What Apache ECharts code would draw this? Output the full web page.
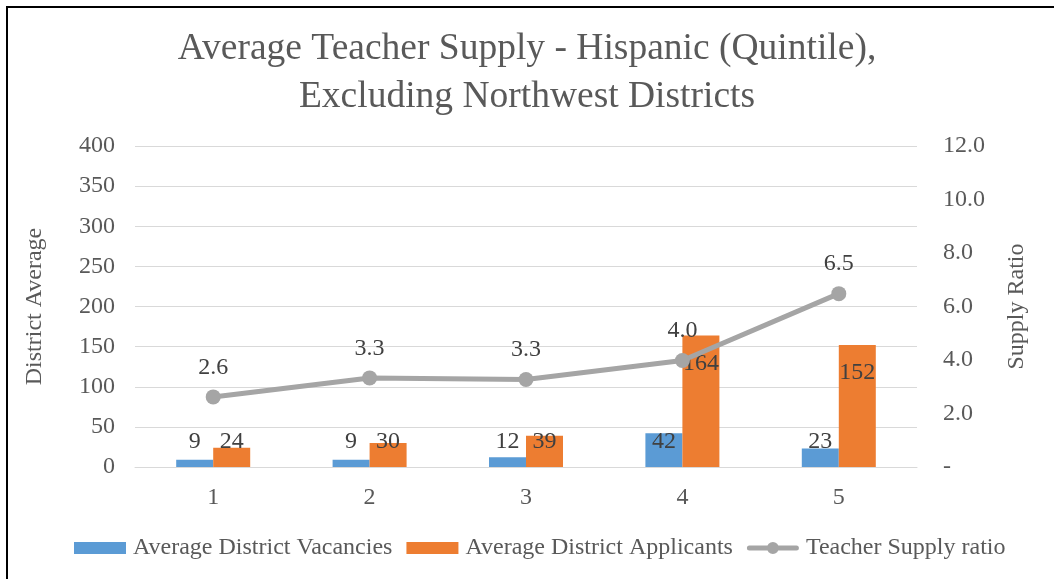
<!DOCTYPE html>
<html>
<head>
<meta charset="utf-8">
<script src="https://cdn.jsdelivr.net/npm/echarts@6/dist/echarts.min.js"></script>
<style>
  html, body { margin: 0; padding: 0; background: #fff; }
  #frame { position: absolute; left: 6px; top: 6px; width: 1048px; height: 573px; border-left: 2px solid #000; border-top: 2px solid #000; box-sizing: border-box; }
  #chart { position: absolute; left: 0; top: 0; width: 1054px; height: 579px; }
</style>
</head>
<body>
<div id="frame"></div>
<div id="chart"></div>
<script>
const categories = ['1', '2', '3', '4', '5'];
const vacancies = [9, 9, 12, 42, 23];
const applicants = [24, 30, 39, 164, 152];
const supplyRatio = [2.62, 3.33, 3.27, 3.98, 6.48];
const leftTicks = [0, 50, 100, 150, 200, 250, 300, 350, 400];
const rightTicks = [0, 2, 4, 6, 8, 10, 12];

const FONT = '"Liberation Serif", "Times New Roman", serif';
const TXT = '#595959';
const LINE_ICON = 'path://M2.5,3.5 L49.5,3.5 A2.5,2.5 0 0 1 49.5,8.5 L2.5,8.5 A2.5,2.5 0 0 1 2.5,3.5 Z M20,6 A6,6 0 1 1 32,6 A6,6 0 1 1 20,6 Z';

function barItems(values) {
  return values.map(v => ({
    value: v,
    label: v >= 66
      ? { position: 'insideTop', distance: 16 }
      : { position: 'insideBottom', distance: 13 }
  }));
}

const chart = echarts.init(document.getElementById('chart'), null, { renderer: 'canvas' });
chart.setOption({
  animation: false,
  backgroundColor: 'transparent',
  textStyle: { fontFamily: FONT },
  title: {
    text: 'Average Teacher Supply - Hispanic (Quintile),\nExcluding Northwest Districts',
    left: 'center',
    top: 25,
    padding: [0, 0, 0, 18],
    textStyle: { fontFamily: FONT, fontSize: 37.5, fontWeight: 'normal', color: TXT, lineHeight: 48 }
  },
  legend: {
    left: 69,
    top: 531,
    itemWidth: 52,
    itemHeight: 12,
    itemGap: 14,
    textStyle: { fontFamily: FONT, fontSize: 24, color: TXT, padding: [0, 0, 0, 2] },
    data: [
      { name: 'Average District Vacancies', icon: 'rect' },
      { name: 'Average District Applicants', icon: 'rect' },
      { name: 'Teacher Supply ratio', icon: LINE_ICON, itemStyle: { color: '#A5A5A5' } }
    ]
  },
  grid: { left: 135, right: 137, top: 146, bottom: 112, containLabel: false },
  xAxis: {
    type: 'category',
    data: categories,
    axisLine: { lineStyle: { color: '#D9D9D9', width: 1 } },
    axisTick: { show: false },
    axisLabel: { fontFamily: FONT, fontSize: 24, color: TXT, margin: 19 }
  },
  yAxis: [
    {
      type: 'value',
      min: leftTicks[0],
      max: leftTicks[leftTicks.length - 1],
      interval: leftTicks[1] - leftTicks[0],
      name: 'District Average',
      nameLocation: 'middle',
      nameGap: 88,
      nameRotate: 90,
      nameTextStyle: { fontFamily: FONT, fontSize: 24, color: TXT },
      axisLine: { show: false },
      axisTick: { show: false },
      axisLabel: { fontFamily: FONT, fontSize: 24, color: TXT, margin: 20 },
      splitLine: { lineStyle: { color: '#D9D9D9', width: 1 } }
    },
    {
      type: 'value',
      min: rightTicks[0],
      max: rightTicks[rightTicks.length - 1],
      interval: rightTicks[1] - rightTicks[0],
      name: 'Supply Ratio',
      nameLocation: 'middle',
      nameGap: 88,
      nameRotate: 90,
      nameTextStyle: { fontFamily: FONT, fontSize: 24, color: TXT },
      axisLine: { show: false },
      axisTick: { show: false },
      axisLabel: {
        fontFamily: FONT, fontSize: 24, color: TXT, margin: 26, align: 'left',
        formatter: v => v === 0 ? '-' : v.toFixed(1)
      },
      splitLine: { show: false }
    }
  ],
  series: [
    {
      name: 'Average District Vacancies',
      type: 'bar',
      yAxisIndex: 0,
      data: barItems(vacancies),
      barWidth: 37,
      barGap: '0%',
      itemStyle: { color: '#5B9BD5' },
      label: { show: true, fontFamily: FONT, fontSize: 24, color: '#404040', lineHeight: 24 },
      z: 2
    },
    {
      name: 'Average District Applicants',
      type: 'bar',
      yAxisIndex: 0,
      data: barItems(applicants),
      barWidth: 37,
      barGap: '0%',
      itemStyle: { color: '#ED7D31' },
      label: { show: true, fontFamily: FONT, fontSize: 24, color: '#404040', lineHeight: 24 },
      z: 2
    },
    {
      name: 'Teacher Supply ratio',
      type: 'line',
      yAxisIndex: 1,
      data: supplyRatio,
      symbol: 'circle',
      symbolSize: 15,
      lineStyle: { color: '#A5A5A5', width: 5 },
      itemStyle: { color: '#A5A5A5' },
      label: {
        show: true, position: 'top', distance: 10,
        fontFamily: FONT, fontSize: 24, color: '#404040', lineHeight: 24,
        formatter: p => p.value.toFixed(1)
      },
      z: 3
    }
  ]
});
</script>
</body>
</html>
